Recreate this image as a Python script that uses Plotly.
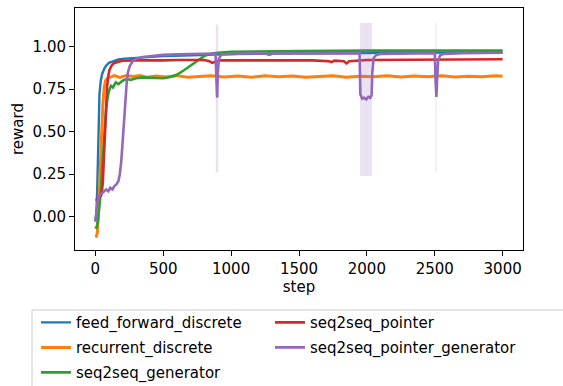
import plotly.graph_objects as go

# ---- data ----
series_names = ["feed_forward_discrete", "recurrent_discrete", "seq2seq_generator",
                "seq2seq_pointer", "seq2seq_pointer_generator"]

ffd_steps = [0, 8, 15, 22, 30, 40, 50, 65, 80, 100, 130, 170, 220, 300, 400, 500,
             650, 800, 1000, 1300, 1600, 2000, 2400, 2700, 3000]
ffd_reward = [-0.02, 0.02, 0.20, 0.50, 0.72, 0.80, 0.84, 0.87, 0.89, 0.905, 0.915, 0.925,
              0.93, 0.935, 0.94, 0.945, 0.948, 0.952, 0.957, 0.96, 0.962, 0.964, 0.966,
              0.967, 0.968]

rd_steps = [0, 8, 15, 22, 30, 38, 46, 55, 65, 75, 90, 110, 140, 180, 230, 280, 330, 380,
            450, 520, 600, 680, 760, 850, 950, 1050, 1150, 1250, 1350, 1450, 1550, 1650,
            1750, 1850, 1950, 2050, 2150, 2250, 2350, 2450, 2550, 2650, 2750, 2850, 2950,
            3000]
rd_reward = [-0.12, -0.115, -0.09, 0.0, 0.15, 0.32, 0.50, 0.66, 0.76, 0.80, 0.815, 0.82,
             0.83, 0.82, 0.83, 0.825, 0.83, 0.82, 0.828, 0.822, 0.83, 0.82, 0.826, 0.83,
             0.822, 0.828, 0.82, 0.83, 0.823, 0.828, 0.82, 0.826, 0.83, 0.821, 0.827,
             0.823, 0.83, 0.822, 0.828, 0.824, 0.83, 0.822, 0.827, 0.823, 0.829, 0.826]

s2g_steps = [0, 10, 20, 30, 40, 50, 60, 70, 80, 90, 100, 115, 130, 150, 170, 200, 230,
             260, 300, 350, 400, 450, 500, 550, 600, 650, 700, 750, 800, 850, 900, 1000,
             1200, 1500, 2000, 2500, 3000]
s2g_reward = [-0.07, -0.06, -0.02, 0.05, 0.15, 0.28, 0.42, 0.55, 0.64, 0.70, 0.74, 0.77,
              0.76, 0.79, 0.78, 0.80, 0.81, 0.805, 0.815, 0.82, 0.818, 0.82, 0.815, 0.822,
              0.835, 0.86, 0.89, 0.92, 0.945, 0.958, 0.965, 0.97, 0.973, 0.975, 0.977,
              0.978, 0.978]

s2p_steps = [0, 15, 30, 45, 55, 62, 70, 78, 86, 95, 105, 120, 140, 170, 200, 300, 400,
             500, 600, 700, 800, 840, 860, 880, 920, 1000, 1200, 1400, 1600, 1720, 1740,
             1760, 1830, 1850, 1870, 2000, 2200, 2400, 2600, 2800, 3000]
s2p_reward = [0.10, 0.10, 0.11, 0.13, 0.20, 0.32, 0.48, 0.64, 0.76, 0.83, 0.865, 0.89,
              0.905, 0.912, 0.918, 0.92, 0.918, 0.92, 0.922, 0.92, 0.922, 0.915, 0.905,
              0.91, 0.92, 0.92, 0.92, 0.922, 0.92, 0.915, 0.91, 0.918, 0.915, 0.902, 0.915,
              0.922, 0.923, 0.922, 0.924, 0.925, 0.926]

s2pg_steps = [0, 8, 16, 25, 35, 50, 65, 80, 95, 110, 125, 140, 155, 170, 180, 190, 200,
              210, 220, 230, 240, 255, 275, 300, 350, 400, 500, 600, 700, 800, 885, 892,
              897, 902, 910, 930, 1000, 1100, 1250, 1280, 1310, 1500, 1700, 1900, 1946,
              1952, 1965, 1980, 1995, 2010, 2025, 2035, 2040, 2050, 2070, 2100, 2300, 2500,
              2506, 2512, 2518, 2525, 2540, 2570, 2700, 2850, 3000]
s2pg_reward = [-0.03, 0.04, 0.09, 0.11, 0.13, 0.14, 0.15, 0.16, 0.15, 0.17, 0.16, 0.18,
               0.19, 0.21, 0.25, 0.32, 0.43, 0.56, 0.68, 0.78, 0.85, 0.89, 0.915, 0.93,
               0.94, 0.945, 0.952, 0.955, 0.958, 0.96, 0.96, 0.80, 0.70, 0.84, 0.93, 0.955,
               0.958, 0.96, 0.962, 0.952, 0.96, 0.961, 0.962, 0.962, 0.962, 0.72, 0.695,
               0.70, 0.69, 0.705, 0.70, 0.715, 0.85, 0.935, 0.952, 0.958, 0.962, 0.962,
               0.80, 0.705, 0.82, 0.92, 0.95, 0.958, 0.962, 0.963, 0.965]

# purple std-band spikes (start step, end step, low, high)
band_start = [887, 1950, 2506]
band_end = [905, 2037, 2514]
band_low = [0.26, 0.24, 0.26]
band_high = [1.13, 1.14, 1.14]

x_ticks = [0, 500, 1000, 1500, 2000, 2500, 3000]
y_ticks = [0.00, 0.25, 0.50, 0.75, 1.00]

colors = ["#1f77b4", "#ff7f0e", "#2ca02c", "#d62728", "#9467bd"]
legend_column = ["legend", "legend", "legend", "legend2", "legend2"]  # ncol=2 layout

all_steps = [ffd_steps, rd_steps, s2g_steps, s2p_steps, s2pg_steps]
all_reward = [ffd_reward, rd_reward, s2g_reward, s2p_reward, s2pg_reward]
widths = [2.4, 3.0, 2.6, 2.6, 2.6]

fig = go.Figure()
for i in range(5):
    if i == 4:
        for s, e, lo, hi in zip(band_start, band_end, band_low, band_high):
            fig.add_trace(go.Scatter(
                x=[s, e, e, s, s], y=[lo, lo, hi, hi, lo], mode="lines",
                fill="toself", fillcolor="rgba(148,103,189,0.2)",
                line=dict(width=0), hoverinfo="skip", showlegend=False))
    fig.add_trace(go.Scatter(
        x=all_steps[i], y=all_reward[i], mode="lines", name=series_names[i],
        line=dict(color=colors[i], width=widths[i]),
        legend=legend_column[i], legendgroup=series_names[i], legendrank=i + 1))

font = "DejaVu Sans"
FS = 15
leg_common = dict(orientation="v", yanchor="top", y=-0.232, xanchor="left",
                  bgcolor="rgba(0,0,0,0)", borderwidth=0, tracegroupgap=2.5,
                  font=dict(family=font, size=FS, color="black"),
                  traceorder="grouped")
fig.update_layout(
    width=563, height=386,
    margin=dict(l=75, r=40, t=8, b=136, autoexpand=False),
    paper_bgcolor="white", plot_bgcolor="white",
    font=dict(family=font, size=FS, color="black"),
    xaxis=dict(range=[-150, 3150], tickvals=x_ticks, ticks="outside", ticklen=5,
               tickwidth=1, tickcolor="black", showline=True, linecolor="black",
               linewidth=1, mirror=True, showgrid=False, zeroline=False,
               automargin=False, tickfont=dict(size=FS),
               title=dict(text="step", standoff=4, font=dict(size=FS))),
    yaxis=dict(range=[-0.196, 1.228], tickvals=y_ticks, tickformat=".2f",
               ticks="outside", ticklen=5, tickwidth=1, tickcolor="black",
               showline=True, linecolor="black", linewidth=1, mirror=True,
               showgrid=False, zeroline=False, automargin=False,
               tickfont=dict(size=FS),
               title=dict(text="reward", standoff=5, font=dict(size=FS))),
    legend=dict(x=-0.0871, **leg_common),
    legend2=dict(x=0.4352, **leg_common),
    shapes=[dict(type="rect", xref="paper", yref="paper",
                 x0=-0.096, x1=1.2, y0=-0.7, y1=-0.248,
                 line=dict(color="#cccccc", width=1), fillcolor="rgba(0,0,0,0)",
                 layer="below")],
)

fig.write_html("out.html", config={"displayModeBar": False},
               post_script="document.body.style.margin='0';document.body.style.overflow='hidden';")
